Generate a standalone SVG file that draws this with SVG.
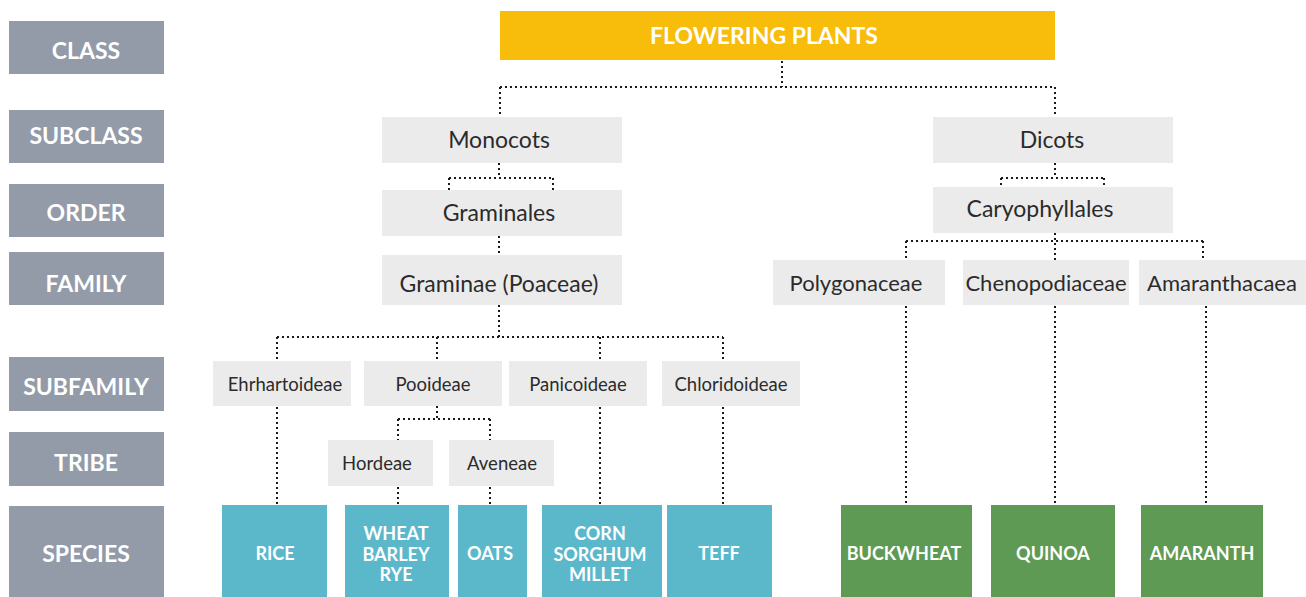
<svg xmlns="http://www.w3.org/2000/svg" width="1306" height="597" viewBox="0 0 1306 597">
<style>
.rank{fill:#939BA8}
.rt{fill:#fff;font-family:Lato,"Noto Sans",sans-serif;font-weight:700;font-size:23px;text-anchor:middle}
.lb{fill:#EBEBEC}
.lt{fill:#2b2b2b;font-family:Lato,"Noto Sans",sans-serif;font-size:23px;text-anchor:middle}
.ft{fill:#2b2b2b;font-family:Lato,"Noto Sans",sans-serif;font-size:22px;text-anchor:middle}
.st{fill:#2b2b2b;font-family:Lato,"Noto Sans",sans-serif;font-size:18.5px;text-anchor:middle}
.teal{fill:#5BB8CB}
.green{fill:#5E9A53}
.sp{fill:#fff;font-family:Lato,"Noto Sans",sans-serif;font-weight:700;font-size:18px;text-anchor:middle}
.c{fill:none;stroke:#1a1a1a;stroke-width:2;stroke-dasharray:2 3}
</style>
<rect width="1306" height="597" fill="#fff"/>
<g id="ranks">
<g id="r-class"><rect class="rank" x="9" y="21" width="155" height="53"/><text class="rt" x="86" y="59">CLASS</text></g>
<g id="r-subclass"><rect class="rank" x="9" y="110" width="155" height="53"/><text class="rt" x="86" y="144">SUBCLASS</text></g>
<g id="r-order"><rect class="rank" x="9" y="184" width="155" height="53"/><text class="rt" x="86" y="221">ORDER</text></g>
<g id="r-family"><rect class="rank" x="9" y="252" width="155" height="53"/><text class="rt" x="86" y="292">FAMILY</text></g>
<g id="r-subfamily"><rect class="rank" x="9" y="357" width="155" height="54"/><text class="rt" x="86" y="395">SUBFAMILY</text></g>
<g id="r-tribe"><rect class="rank" x="9" y="432" width="155" height="54"/><text class="rt" x="86" y="471">TRIBE</text></g>
<g id="r-species"><rect class="rank" x="9" y="506" width="155" height="91"/><text class="rt" x="86" y="562">SPECIES</text></g>
</g>
<g id="connectors">
<path class="c" d="M782 61V87M500 87H1055M500 87V117M1055 87V117"/>
<path class="c" d="M499 163V178M449 178H553M449 178V190M553 178V190"/>
<path class="c" d="M1055 163V178M1001 178H1104M1001 178V187M1104 178V187"/>
<path class="c" d="M1055 233V260M906 241H1203M906 241V260M1203 241V260"/>
<path class="c" d="M499 236V255"/>
<path class="c" d="M499 305V337M277 337H723M277 337V361M437 337V361M600 337V361M723 337V361"/>
<path class="c" d="M437 406V419M398 419H490M398 419V440M490 419V440"/>
<path class="c" d="M277 407V505M600 407V505M723 407V505M398 487V505M490 487V505"/>
<path class="c" d="M906 306V505M1055 306V505M1206 306V505"/>
</g>
<g id="flowering-plants"><rect x="500" y="11" width="555" height="49" fill="#F8BC0B"/><text x="764" y="44" fill="#fff" font-family="Lato,'Noto Sans',sans-serif" font-weight="700" font-size="23" text-anchor="middle">FLOWERING PLANTS</text></g>
<g id="monocots"><rect class="lb" x="382" y="117" width="240" height="46"/><text class="lt" x="499" y="148">Monocots</text></g>
<g id="dicots"><rect class="lb" x="933" y="117" width="240" height="46"/><text class="lt" x="1052" y="148">Dicots</text></g>
<g id="graminales"><rect class="lb" x="382" y="190" width="240" height="46"/><text class="lt" x="499" y="221">Graminales</text></g>
<g id="caryophyllales"><rect class="lb" x="933" y="187" width="240" height="46"/><text class="lt" x="1040" y="217">Caryophyllales</text></g>
<g id="graminae"><rect class="lb" x="382" y="255" width="240" height="50"/><text class="lt" x="499" y="292">Graminae (Poaceae)</text></g>
<g id="polygonaceae"><rect class="lb" x="773" y="260" width="172" height="45"/><text class="ft" x="856" y="291">Polygonaceae</text></g>
<g id="chenopodiaceae"><rect class="lb" x="963" y="260" width="166" height="45"/><text class="ft" x="1046" y="291">Chenopodiaceae</text></g>
<g id="amaranthacaea"><rect class="lb" x="1139" y="260" width="167" height="45"/><text class="ft" x="1222" y="291">Amaranthacaea</text></g>
<g id="ehrhartoideae"><rect class="lb" x="213" y="361" width="138" height="45"/><text class="st" x="285" y="391">Ehrhartoideae</text></g>
<g id="pooideae"><rect class="lb" x="364" y="361" width="138" height="45"/><text class="st" x="433" y="391">Pooideae</text></g>
<g id="panicoideae"><rect class="lb" x="509" y="361" width="138" height="45"/><text class="st" x="578" y="391">Panicoideae</text></g>
<g id="chloridoideae"><rect class="lb" x="662" y="361" width="138" height="45"/><text class="st" x="731" y="391">Chloridoideae</text></g>
<g id="hordeae"><rect class="lb" x="328" y="440" width="105" height="46"/><text class="st" x="377" y="470">Hordeae</text></g>
<g id="aveneae"><rect class="lb" x="449" y="440" width="105" height="46"/><text class="st" x="502" y="470">Aveneae</text></g>
<g id="rice"><rect class="teal" x="222" y="505" width="105" height="92"/><text class="sp" x="275" y="560">RICE</text></g>
<g id="wheat"><rect class="teal" x="345" y="505" width="104" height="92"/><text class="sp" x="396" y="540">WHEAT</text><text class="sp" x="396" y="561">BARLEY</text><text class="sp" x="396" y="581">RYE</text></g>
<g id="oats"><rect class="teal" x="458" y="505" width="69" height="92"/><text class="sp" x="490" y="560">OATS</text></g>
<g id="corn"><rect class="teal" x="542" y="505" width="120" height="92"/><text class="sp" x="600" y="540">CORN</text><text class="sp" x="600" y="561">SORGHUM</text><text class="sp" x="600" y="581">MILLET</text></g>
<g id="teff"><rect class="teal" x="667" y="505" width="105" height="92"/><text class="sp" x="719" y="560">TEFF</text></g>
<g id="buckwheat"><rect class="green" x="841" y="505" width="131" height="92"/><text class="sp" x="904" y="560">BUCKWHEAT</text></g>
<g id="quinoa"><rect class="green" x="991" y="505" width="124" height="92"/><text class="sp" x="1053" y="560">QUINOA</text></g>
<g id="amaranth"><rect class="green" x="1141" y="505" width="122" height="92"/><text class="sp" x="1202" y="560">AMARANTH</text></g>
</svg>
